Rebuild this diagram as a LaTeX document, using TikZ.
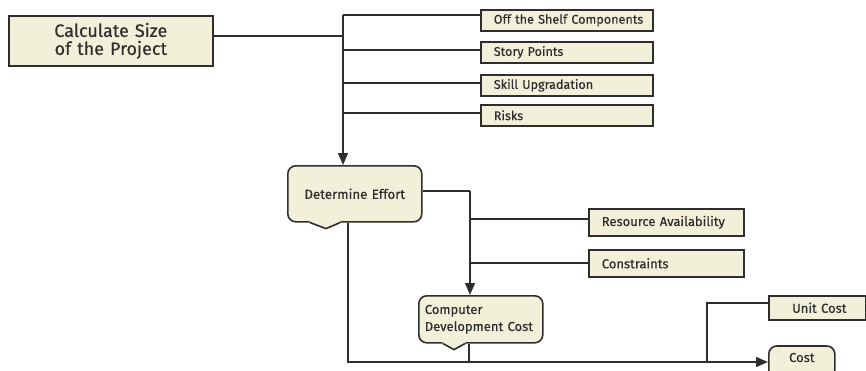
\documentclass[tikz,border=0pt]{standalone}
\usepackage{fontspec}
\setmainfont{Fira Sans}[FakeBold=0.4]
\usetikzlibrary{arrows.meta,calc}
\definecolor{cream}{HTML}{F3F0DA}
\definecolor{ink}{HTML}{2E2E2E}

\begin{document}
\begin{tikzpicture}[x=1pt,y=-1pt,
  box/.style={draw=ink, line width=1.6pt, fill=cream, anchor=north west,
    inner ysep=0pt, text=ink, font=\fontsize{13}{15}\selectfont},
  leftbox/.style={box, inner xsep=0pt, align=left,
    execute at begin node={\hspace*{13pt}}},
  bubble/.style={box, rounded corners=8pt},
  wire/.style={draw=ink, line width=1.3pt},
  flow/.style={wire, -{Triangle[length=12pt,width=10pt]}},
  tail/.style={draw=ink, line width=1.6pt, line join=miter}]

\useasboundingbox (0,0) rectangle (866,370);
\fill[white] (0,0) rectangle (866,370);
\clip (0,0) rectangle (866,370);

% sizing step
\node[box, minimum width=204pt, minimum height=50pt, text width=190pt, align=center,
  font=\fontsize{18}{18}\selectfont] (calc) at (8,15) {Calculate Size\\of the Project};

\tikzset{topbox/.style={leftbox, minimum height=21pt, text width=172pt,
  font=\fontsize{12.6}{14}\selectfont}}
\node[topbox] (ots) at (480,9) {Off the Shelf Components};
\node[topbox] (sp) at (480,41) {Story Points};
\node[topbox] (su) at (480,74) {Skill Upgradation};
\node[topbox] (rk) at (480,104) {Risks};

% effort step
\node[bubble, minimum width=134pt, minimum height=56pt, text width=120pt, align=center,
  inner xsep=7pt, font=\fontsize{13.3}{15}\selectfont] (eff) at (287,165) {Determine Effort};
\node[leftbox, minimum height=27pt, text width=155pt] (ra) at (588,208) {Resource Availability};
\node[leftbox, minimum height=27pt, text width=155pt] (con) at (588,249) {Constraints};

% cost step
\node[bubble, minimum width=124pt, minimum height=47pt, text width=112pt, align=left,
  inner xsep=6pt, font=\fontsize{13}{17}\selectfont] (cdc) at (418,295) {Computer\\Development Cost};
\node[box, minimum width=97pt, minimum height=24pt, text width=84pt, align=center] (uc) at (768,295) {\hspace*{4pt}Unit Cost};
\node[bubble, minimum width=66pt, minimum height=32pt, text width=56pt, align=center,
  anchor=west] (cost) at (768,362) {\raisebox{0pt}[0pt][0pt]{Cost}};

% callout tails
\fill[cream] ($(eff.south west)+(22,-1.5)$) -- ($(eff.south west)+(39,6)$) -- ($(eff.south west)+(54,-1.5)$) -- cycle;
\draw[tail] ($(eff.south west)+(23,0)$) -- ($(eff.south west)+(39,6)$) -- ($(eff.south west)+(53,0)$);
\fill[cream] ($(cdc.south west)+(24,-1.5)$) -- ($(cdc.south west)+(36,6)$) -- ($(cdc.south west)+(48,-1.5)$) -- cycle;
\draw[tail] ($(cdc.south west)+(25,0)$) -- ($(cdc.south west)+(36,6)$) -- ($(cdc.south west)+(47,0)$);

% junction points
\coordinate (s0) at (343,15);
\coordinate (s1) at (343,36);
\coordinate (s2) at (343,50);
\coordinate (s3) at (343,83);
\coordinate (s4) at (343,113);
\coordinate (e0) at (470,191);
\coordinate (e1) at (470,219);
\coordinate (e2) at (470,263);
\coordinate (b0) at (348,362);
\coordinate (b1) at (469,362);
\coordinate (u0) at (707,362);
\coordinate (u1) at (707,303);

% connectors
\draw[wire] (calc.east |- s1) -- (s1);
\draw[wire] (s0) -- (ots.west |- s0);
\draw[wire] (s2) -- (sp.west |- s2);
\draw[wire] (s3) -- (su.west |- s3);
\draw[wire] (s4) -- (rk.west |- s4);
\draw[flow] (s0) -- (s0 |- eff.north);

\draw[wire] (eff.east |- e0) -- (e0);
\draw[flow] (e0) -- (e0 |- cdc.north);
\draw[wire] (e1) -- (ra.west |- e1);
\draw[wire] (e2) -- (con.west |- e2);

\draw[flow] (b0 |- eff.south) -- (b0) -- (cost.west);
\draw[wire] (b1 |- cdc.south) -- (b1);
\draw[wire] (u0) -- (u1) -- (uc.west |- u1);
\end{tikzpicture}
\end{document}
